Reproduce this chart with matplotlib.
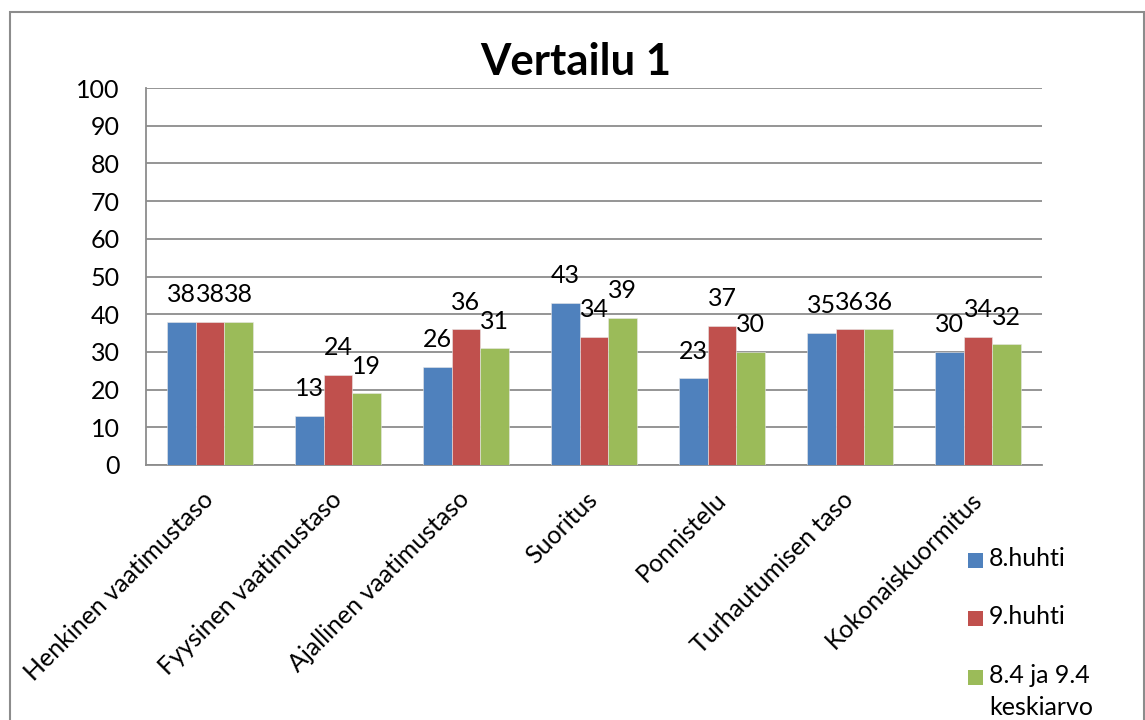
import matplotlib.pyplot as plt
import numpy as np
from matplotlib.patches import Rectangle

# ===== data =====
categories = [
    "Henkinen vaatimustaso",
    "Fyysinen vaatimustaso",
    "Ajallinen vaatimustaso",
    "Suoritus",
    "Ponnistelu",
    "Turhautumisen taso",
    "Kokonaiskuormitus",
]
huhti8 = [38, 13, 26, 43, 23, 35, 30]
huhti9 = [38, 24, 36, 34, 37, 36, 34]
keskiarvo = [38, 19, 31, 39, 30, 36, 32]

series_names = ["8.huhti", "9.huhti", "8.4 ja 9.4\nkeskiarvo"]
colors = ["#4F81BD", "#C0504D", "#9BBB59"]
y_ticks = list(range(0, 101, 10))

W, H = 1145, 720
FS = 18

plt.rcParams["font.family"] = ["Lato", "DejaVu Sans"]

fig = plt.figure(figsize=(W / 100, H / 100), dpi=100)
ax = fig.add_axes([146 / W, 1 - 465 / H, (1042 - 146) / W, (465 - 88) / H])

# chart border
fig.patches.append(
    Rectangle((10 / W, -0.05), (1144 - 10) / W, 1.05 - 12 / H,
              transform=fig.transFigure, fill=False, edgecolor="#8C8C8C",
              linewidth=1.5, zorder=0)
)

x = np.arange(len(categories))
w = 1 / 4.5
for i, (vals, c) in enumerate(zip([huhti8, huhti9, keskiarvo], colors)):
    pos = x + (i - 1) * w
    ax.bar(pos, vals, width=w, color=c, edgecolor="#E8E8E8", linewidth=0.4,
           zorder=3)
    for px_, v in zip(pos, vals):
        ax.annotate(str(v), (px_, v), xytext=(0, 19.5), textcoords="offset points",
                    ha="center", va="center", fontsize=FS, color="black")

ax.set_xlim(-0.5, len(categories) - 0.5)
ax.set_ylim(0, 100)
ax.set_yticks(y_ticks)
ax.tick_params(axis="y", length=0, pad=19, labelsize=FS)
ax.tick_params(axis="x", length=0, pad=22)
ax.set_xticks(x)
ax.set_xticklabels(categories, rotation=45, ha="right", va="center",
                   rotation_mode="anchor", fontsize=FS)

ax.grid(axis="y", color="#8C8C8C", linewidth=1.3, zorder=0)
for s in ["top", "right"]:
    ax.spines[s].set_visible(False)
for s in ["left", "bottom"]:
    ax.spines[s].set_color("#8C8C8C")
    ax.spines[s].set_linewidth(1.3)

fig.text(576 / W, 1 - 62 / H, "Vertailu 1", ha="center", va="center",
         fontsize=31.5, fontweight="bold")

# legend: square aligned with first text line
for name, c, yc in zip(series_names, colors, [560, 618, 677]):
    fig.patches.append(
        Rectangle((968 / W, 1 - (yc + 7.5) / H), 15 / W, 15 / H,
                  transform=fig.transFigure, facecolor=c, edgecolor="none")
    )
    fig.text(989 / W, 1 - (yc - 13) / H, name, ha="left", va="top",
             fontsize=FS, linespacing=1.45)

fig.savefig("out.png", dpi=100)
